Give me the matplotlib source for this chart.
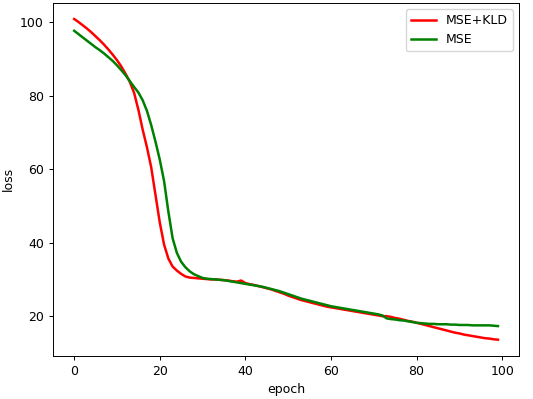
import matplotlib
matplotlib.use("Agg")
import matplotlib.pyplot as plt

# loss per epoch
epochs = list(range(100))

mse_kld = [
    100.9, 100.1, 99.2, 98.3, 97.3, 96.2, 95.1, 93.9, 92.6, 91.2,
    89.7, 88.0, 86.0, 83.8, 80.8, 76.2, 70.8, 66.0, 60.5, 53.0,
    45.5, 39.5, 35.7, 33.5, 32.4, 31.5, 30.8, 30.5, 30.4, 30.3,
    30.2, 30.1, 30.0, 30.0, 29.9, 29.8, 29.7, 29.5, 29.4, 29.7,
    29.0, 28.7, 28.5, 28.2, 27.9, 27.6, 27.3, 26.9, 26.5, 26.1,
    25.6, 25.2, 24.8, 24.4, 24.1, 23.8, 23.5, 23.2, 22.9, 22.6,
    22.4, 22.2, 22.0, 21.8, 21.6, 21.4, 21.2, 21.0, 20.8, 20.6,
    20.4, 20.2, 20.0, 20.0, 19.8, 19.5, 19.3, 19.0, 18.7, 18.5,
    18.2, 17.9, 17.6, 17.3, 17.0, 16.7, 16.4, 16.1, 15.8, 15.5,
    15.3, 15.0, 14.8, 14.6, 14.4, 14.2, 14.0, 13.9, 13.7, 13.6,
]

mse = [
    97.7, 96.8, 95.9, 95.0, 94.1, 93.2, 92.4, 91.5, 90.5, 89.5,
    88.3, 87.0, 85.6, 84.0, 82.4, 80.9, 78.8, 75.9, 72.0, 67.5,
    62.6, 56.8, 48.5, 41.2, 37.2, 34.8, 33.3, 32.2, 31.4, 30.9,
    30.4, 30.2, 30.1, 30.0, 29.9, 29.8, 29.6, 29.4, 29.2, 29.0,
    28.8, 28.6, 28.4, 28.2, 28.0, 27.7, 27.4, 27.1, 26.8, 26.4,
    26.0, 25.6, 25.2, 24.8, 24.5, 24.2, 23.9, 23.6, 23.3, 23.0,
    22.7, 22.5, 22.3, 22.1, 21.9, 21.7, 21.5, 21.3, 21.1, 20.9,
    20.7, 20.5, 20.2, 19.4, 19.2, 19.1, 18.9, 18.8, 18.6, 18.4,
    18.2, 18.1, 18.0, 17.9, 17.9, 17.8, 17.8, 17.8, 17.7, 17.7,
    17.6, 17.6, 17.6, 17.5, 17.5, 17.5, 17.5, 17.5, 17.4, 17.3,
]

plt.rcParams.update({
    "font.size": 9,
    "axes.linewidth": 0.7,
    "xtick.major.size": 3,
    "ytick.major.size": 3,
    "xtick.major.width": 0.7,
    "ytick.major.width": 0.7,
})

fig = plt.figure(figsize=(5.33, 3.99), dpi=100)
ax = fig.add_axes([0.0994, 0.1085, 0.8746, 0.884])
ax.plot(epochs, mse_kld, color="red", linewidth=1.8, label="MSE+KLD")
ax.plot(epochs, mse, color="green", linewidth=1.8, label="MSE")
ax.set_xlabel("epoch")
ax.set_ylabel("loss")
ax.set_xticks([0, 20, 40, 60, 80, 100])
ax.set_yticks([20, 40, 60, 80, 100])
ax.legend(loc="upper right")
fig.savefig("out.png", dpi=100)
